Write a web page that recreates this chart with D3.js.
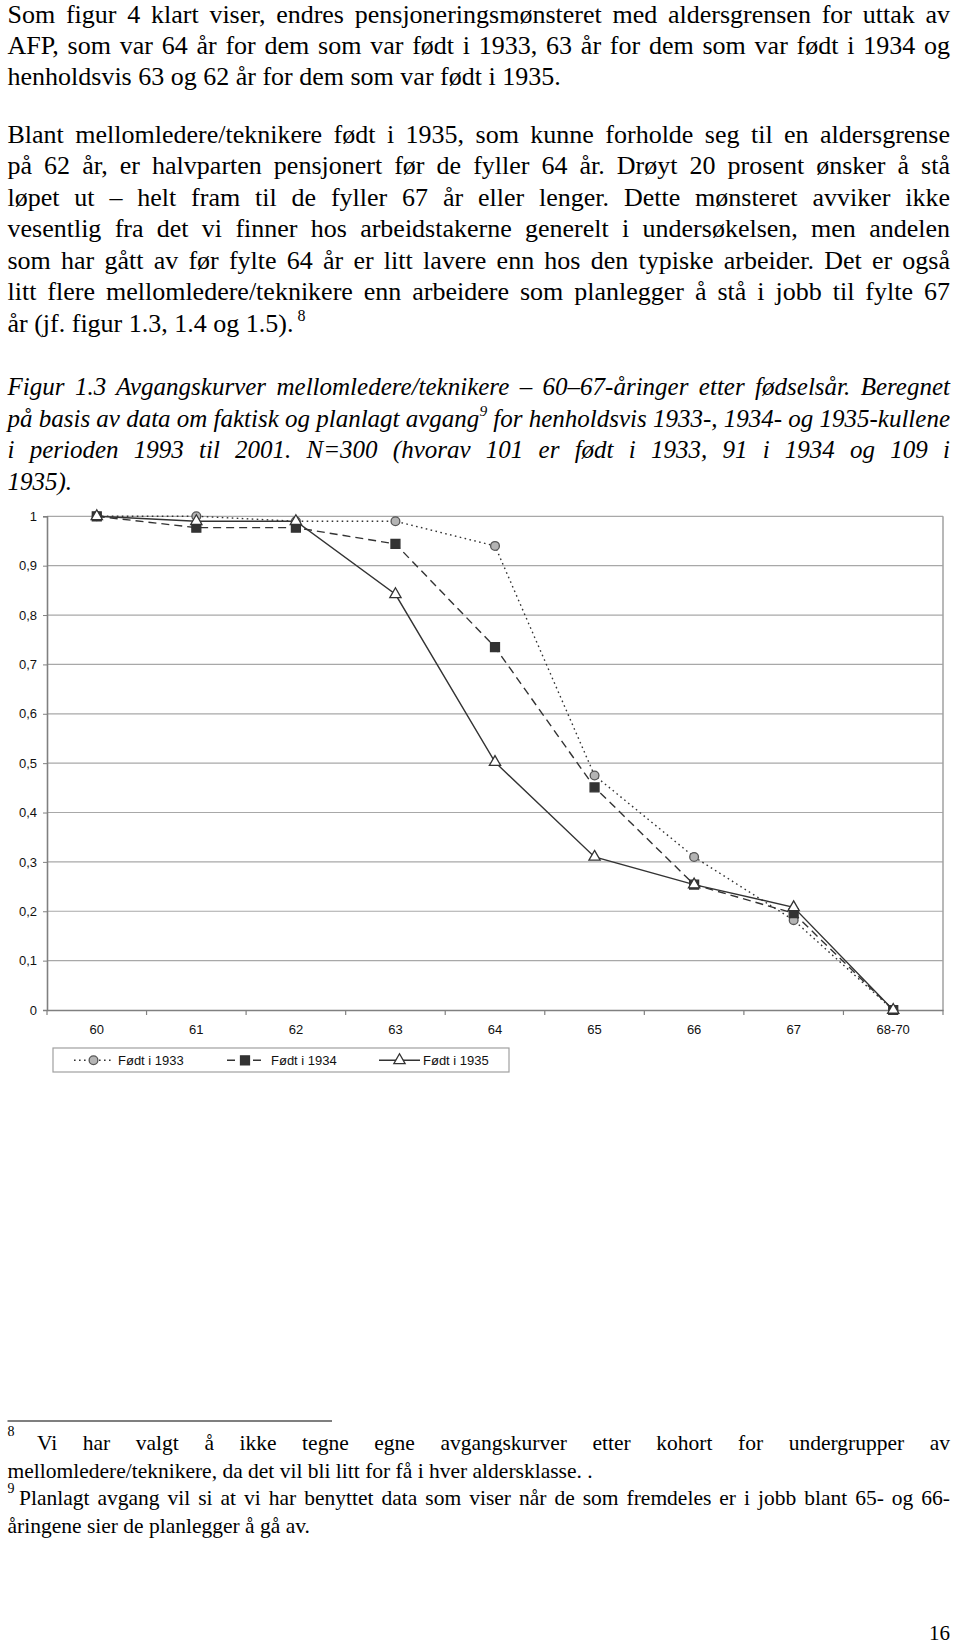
<!DOCTYPE html>
<html><head><meta charset="utf-8">
<script src="https://cdn.jsdelivr.net/npm/d3@7"></script>
<style>body{margin:0;background:#fff} svg{display:block}</style>
</head><body><svg id="page" width="960" height="1647"></svg>
<script>
// ---- chart data ----
const categories = ["60","61","62","63","64","65","66","67","68-70"];
const born1933 = [1, 1, 0.99, 0.99, 0.94, 0.475, 0.31, 0.182, 0];
const born1934 = [1, 0.977, 0.977, 0.944, 0.735, 0.451, 0.254, 0.196, 0];
const born1935 = [1, 0.99, 0.99, 0.842, 0.502, 0.31, 0.254, 0.208, 0];
const seriesNames = ["Født i 1933", "Født i 1934", "Født i 1935"];
const yTicks = [0, 0.1, 0.2, 0.3, 0.4, 0.5, 0.6, 0.7, 0.8, 0.9, 1];
const yTickLabels = ["0","0,1","0,2","0,3","0,4","0,5","0,6","0,7","0,8","0,9","1"];

// ---- page text ----
const para1 = [
  "Som figur 4 klart viser, endres pensjoneringsmønsteret med aldersgrensen for uttak av",
  "AFP, som var 64 år for dem som var født i 1933, 63 år for dem som var født i 1934 og",
  "henholdsvis 63 og 62 år for dem som var født i 1935."
];
const para2 = [
  "Blant mellomledere/teknikere født i 1935, som kunne forholde seg til en aldersgrense",
  "på 62 år, er halvparten pensjonert før de fyller 64 år. Drøyt 20 prosent ønsker å stå",
  "løpet ut – helt fram til de fyller 67 år eller lenger. Dette mønsteret avviker ikke",
  "vesentlig fra det vi finner hos arbeidstakerne generelt i undersøkelsen, men andelen",
  "som har gått av før fylte 64 år er litt lavere enn hos den typiske arbeider. Det er også",
  "litt flere mellomledere/teknikere enn arbeidere som planlegger å stå i jobb til fylte 67",
  "år (jf. figur 1.3, 1.4 og 1.5)."
];
const caption = [
  "Figur 1.3 Avgangskurver mellomledere/teknikere – 60–67-åringer etter fødselsår. Beregnet",
  ["på basis av data om faktisk og planlagt avgang", "9", " for henholdsvis 1933-, 1934- og 1935-kullene"],
  "i perioden 1993 til 2001. N=300 (hvorav 101 er født i 1933, 91 i 1934 og 109 i",
  "1935)."
];
const foot8 = ["Vi har valgt å ikke tegne egne avgangskurver etter kohort for undergrupper av",
  "mellomledere/teknikere, da det vil bli litt for få i hver aldersklasse. ."];
const foot9 = ["Planlagt avgang vil si at vi har benyttet data som viser når de som fremdeles er i jobb blant 65- og 66-",
  "åringene sier de planlegger å gå av."];

const svg = d3.select("#page");
const SERIF = "'Liberation Serif','Times New Roman',serif";
const SANS = "'Liberation Sans',Arial,sans-serif";
const LEFT = 7.5, RIGHT = 950;

function justify(t, x0, x1) {
  const natural = t.node().getComputedTextLength();
  const txt = t.text();
  const n = (txt.match(/ /g) || []).length;
  if (n > 0) t.attr("word-spacing", ((x1 - x0) - natural) / n);
}

function textLine(line, x, y, opts) {
  const t = svg.append("text").attr("x", x).attr("y", y)
    .attr("font-family", SERIF).attr("font-size", opts.size)
    .attr("font-style", opts.italic ? "italic" : "normal").attr("fill", "#000");
  if (Array.isArray(line)) {
    t.append("tspan").text(line[0]);
    t.append("tspan").attr("font-size", opts.size * 0.62).attr("dy", -opts.size * 0.42).text(line[1]);
    t.append("tspan").attr("dy", opts.size * 0.42).text(line[2]);
  } else t.text(line);
  if (opts.justify) justify(t, x, opts.right || RIGHT);
  return t;
}

const MAIN = 26, LH = 31.5;
para1.forEach((l, i) => textLine(l, LEFT, 23 + i * 31, {size: MAIN, justify: i < para1.length - 1}));
para2.forEach((l, i) => {
  const t = textLine(l, LEFT, 142.5 + i * LH, {size: MAIN, justify: i < para2.length - 1});
  if (i === para2.length - 1) {
    t.append("tspan").attr("font-size", 16).attr("dy", -11).text(" 8");
  }
});
caption.forEach((l, i) => textLine(l, LEFT, 395 + i * LH, {size: 25, italic: true, justify: i < caption.length - 1}));

// ---- chart ----
const x = d3.scaleBand().domain(categories).range([47, 943]).padding(0);
const y = d3.scaleLinear().domain([0, 1]).range([1010, 516.3]);
const cx = c => x(c) + x.bandwidth() / 2;

const g = svg.append("g");
g.selectAll("line.grid").data(yTicks.filter(d => d > 0)).join("line")
  .attr("x1", 47).attr("x2", 943).attr("y1", d => y(d)).attr("y2", d => y(d))
  .attr("stroke", "#a8a8a8").attr("stroke-width", 1.2);
g.append("line").attr("x1", 943).attr("x2", 943).attr("y1", y(1)).attr("y2", y(0))
  .attr("stroke", "#a0a0a0").attr("stroke-width", 1.5);

const yAxis = g.append("g").attr("transform", "translate(47,0)")
  .call(d3.axisLeft(y).tickValues(yTicks).tickFormat((d, i) => yTickLabels[i]).tickSize(4).tickPadding(6));
yAxis.select(".domain").attr("stroke", "#808080").attr("stroke-width", 1.6);
yAxis.selectAll(".tick line").attr("stroke", "#808080");
yAxis.selectAll("text").attr("font-family", SANS).attr("font-size", 13).attr("fill", "#111");

const xAxis = g.append("g").attr("transform", "translate(0,1010)")
  .call(d3.axisBottom(x).tickSize(0).tickPadding(15));
xAxis.select(".domain").attr("stroke", "#808080").attr("stroke-width", 1.6);
xAxis.selectAll("text").attr("font-family", SANS).attr("font-size", 13).attr("fill", "#111");
g.selectAll("line.xtick").data(categories.map(c => x(c)).concat([x.range()[1]])).join("line")
  .attr("x1", d => d).attr("x2", d => d).attr("y1", 1010).attr("y2", 1015)
  .attr("stroke", "#808080").attr("stroke-width", 1.2);

const series = [
  {name: seriesNames[0], values: born1933, dash: "1.6,3.4", symbol: d3.symbolCircle, size: 60, fill: "#b4b4b4", stroke: "#555"},
  {name: seriesNames[1], values: born1934, dash: "8,5", symbol: d3.symbolSquare, size: 80, fill: "#333", stroke: "#333"},
  {name: seriesNames[2], values: born1935, dash: null, symbol: d3.symbolTriangle, size: 55, fill: "#fff", stroke: "#333"}
];
const line = d3.line().x((d, i) => cx(categories[i])).y(d => y(d));
series.forEach(s => {
  g.append("path").datum(s.values).attr("d", line).attr("fill", "none")
    .attr("stroke", "#333").attr("stroke-width", 1.4)
    .attr("stroke-dasharray", s.dash);
  g.selectAll(null).data(s.values).join("path")
    .attr("transform", (d, i) => `translate(${cx(categories[i])},${y(d)})`)
    .attr("d", d3.symbol(s.symbol, s.size)())
    .attr("fill", s.fill).attr("stroke", s.stroke).attr("stroke-width", 1.3);
});

const lg = svg.append("g");
lg.append("rect").attr("x", 53).attr("y", 1048).attr("width", 456).attr("height", 24)
  .attr("fill", "#fff").attr("stroke", "#a0a0a0").attr("stroke-width", 1.2);
const legendPos = [{x1: 74, x2: 113, tx: 118}, {x1: 227, x2: 263, tx: 271}, {x1: 379, x2: 420, tx: 423}];
series.forEach((s, i) => {
  const p = legendPos[i], ly = 1060.3;
  lg.append("line").attr("x1", p.x1).attr("x2", p.x2).attr("y1", ly).attr("y2", ly)
    .attr("stroke", "#333").attr("stroke-width", 1.4).attr("stroke-dasharray", s.dash);
  lg.append("path").attr("transform", `translate(${(p.x1 + p.x2) / 2},${ly})`)
    .attr("d", d3.symbol(s.symbol, s.size)())
    .attr("fill", s.fill).attr("stroke", s.stroke).attr("stroke-width", 1.3);
  lg.append("text").attr("x", p.tx).attr("y", ly + 4.6).attr("font-family", SANS)
    .attr("font-size", 13).attr("fill", "#111").text(s.name);
});

// ---- footnotes ----
svg.append("line").attr("x1", LEFT).attr("x2", 332).attr("y1", 1421).attr("y2", 1421)
  .attr("stroke", "#000").attr("stroke-width", 1.2);
const FN = 21.5;
svg.append("text").attr("x", LEFT).attr("y", 1436).attr("font-family", SERIF).attr("font-size", 14).text("8");
textLine(foot8[0], 37, 1450, {size: FN, justify: true});
textLine(foot8[1], LEFT, 1477.5, {size: FN});
svg.append("text").attr("x", LEFT).attr("y", 1493).attr("font-family", SERIF).attr("font-size", 14).text("9");
textLine(foot9[0], 19, 1505, {size: FN, justify: true});
textLine(foot9[1], LEFT, 1532.5, {size: FN});

svg.append("text").attr("x", 950).attr("y", 1640).attr("text-anchor", "end")
  .attr("font-family", SERIF).attr("font-size", 21).text("16");
</script></body></html>
